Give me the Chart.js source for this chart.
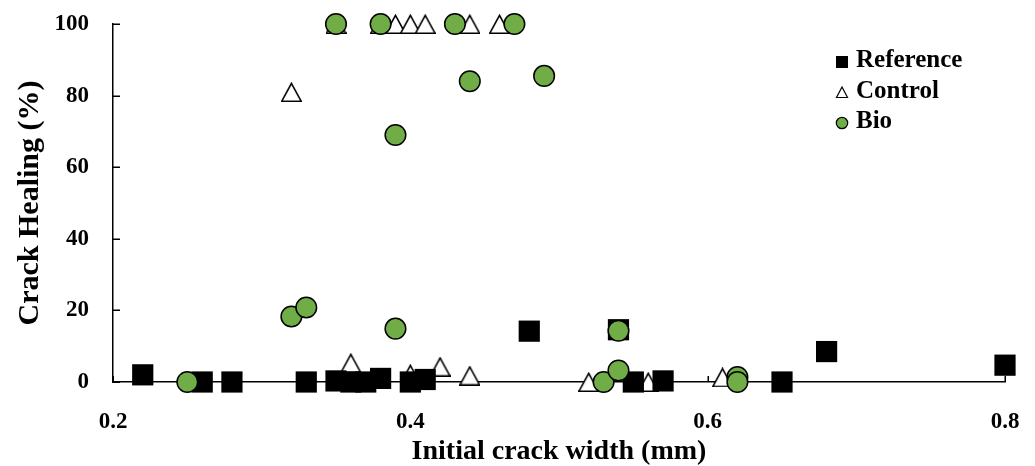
<!DOCTYPE html>
<html>
<head>
<meta charset="utf-8">
<script src="https://cdn.jsdelivr.net/npm/chart.js@4.4.1/dist/chart.umd.min.js"></script>
<style>
  html, body { margin: 0; padding: 0; background: #fff; }
  #wrap { width: 1035px; height: 466px; }
</style>
</head>
<body>
<div id="wrap"><canvas id="c" width="1035" height="466"></canvas></div>
<script>
// Initial crack width (mm) and crack healing (%) per specimen group
const refWidth    = [0.22, 0.26, 0.28, 0.33, 0.35, 0.36, 0.37, 0.38, 0.40, 0.41, 0.48, 0.54, 0.55, 0.57, 0.65, 0.68, 0.80];
const refHealing  = [2.0, 0, 0, 0, 0.3, 0, 0, 1.0, 0, 0.7, 14.2, 14.6, 0, 0.3, 0, 8.5, 4.7];

const ctrlWidth   = [0.32, 0.35, 0.36, 0.38, 0.39, 0.40, 0.40, 0.41, 0.42, 0.44, 0.44, 0.46, 0.52, 0.56, 0.61];
const ctrlHealing = [81, 100, 5.3, 100, 100, 100, 2.2, 100, 4.3, 100, 1.8, 100, 0, 0, 1.3];

const bioWidth    = [0.25, 0.32, 0.33, 0.35, 0.38, 0.39, 0.39, 0.43, 0.44, 0.47, 0.49, 0.53, 0.54, 0.54, 0.62, 0.62];
const bioHealing  = [0, 18.3, 20.8, 100, 100, 69, 14.9, 100, 84, 100, 85.5, 0, 14.3, 3.2, 1.4, 0];

const seriesNames = ['Reference', 'Control', 'Bio'];
const xTickValues = [0.2, 0.4, 0.6, 0.8];
const yTickValues = [0, 20, 40, 60, 80, 100];

const FONT = "'Liberation Serif', 'Times New Roman', serif";
const GREEN = '#70AD47';

function toPoints(xs, ys) {
  return xs.map((x, i) => ({ x: x, y: ys[i] }));
}

// open triangle marker, centred on its bounding box
function triangleMarker(w, h, lw) {
  const c = document.createElement('canvas');
  c.width = w; c.height = h;
  const g = c.getContext('2d');
  g.beginPath();
  g.moveTo(w / 2, lw / 2 + 0.5);
  g.lineTo(w - lw / 2, h - lw / 2);
  g.lineTo(lw / 2, h - lw / 2);
  g.closePath();
  g.fillStyle = '#fff';
  g.fill();
  g.lineWidth = lw;
  g.strokeStyle = '#000';
  g.lineJoin = 'miter';
  g.stroke();
  return c;
}

// tick marks pointing into the plot area
const innerTicks = {
  id: 'innerTicks',
  beforeDatasetsDraw(chart) {
    const { ctx, chartArea: a, scales: { x, y } } = chart;
    ctx.save();
    ctx.strokeStyle = '#000';
    ctx.lineWidth = 1.5;
    ctx.beginPath();
    y.ticks.forEach(t => {
      const py = Math.round(y.getPixelForValue(t.value)) + 0.25;
      ctx.moveTo(a.left, py);
      ctx.lineTo(a.left + 7, py);
    });
    x.ticks.forEach(t => {
      const px = Math.round(x.getPixelForValue(t.value)) + 0.25;
      ctx.moveTo(px, a.bottom);
      ctx.lineTo(px, a.bottom - 6);
    });
    ctx.stroke();
    ctx.restore();
  }
};

// legend block in the upper right of the plot
const legendBlock = {
  id: 'legendBlock',
  afterDraw(chart) {
    const { ctx, chartArea: a } = chart;
    const mx = a.right - 163;
    const y0 = a.top + 38;
    const step = 30.5;
    ctx.save();
    ctx.font = 'bold 25px ' + FONT;
    ctx.textBaseline = 'middle';
    ctx.textAlign = 'left';
    chart.data.datasets.forEach((ds, i) => {
      const cy = y0 + i * step;
      ctx.lineWidth = 1.2;
      ctx.strokeStyle = '#000';
      if (ds.legendShape === 'square') {
        ctx.fillStyle = '#000';
        ctx.fillRect(mx - 6, cy - 6, 12, 12);
      } else if (ds.legendShape === 'triangle') {
        ctx.beginPath();
        ctx.moveTo(mx, cy - 5.5);
        ctx.lineTo(mx + 5.5, cy + 5);
        ctx.lineTo(mx - 5.5, cy + 5);
        ctx.closePath();
        ctx.fillStyle = '#fff';
        ctx.fill();
        ctx.stroke();
      } else {
        ctx.beginPath();
        ctx.arc(mx, cy, 5.7, 0, Math.PI * 2);
        ctx.fillStyle = GREEN;
        ctx.fill();
        ctx.stroke();
      }
      ctx.fillStyle = '#000';
      ctx.fillText(ds.label, mx + 14, cy - 1);
    });
    ctx.restore();
  }
};

const tickFont = { family: FONT, size: 23, weight: 'bold' };

new Chart(document.getElementById('c'), {
  type: 'scatter',
  data: {
    datasets: [
      {
        label: seriesNames[0],
        legendShape: 'square',
        data: toPoints(refWidth, refHealing),
        pointStyle: 'rect',
        pointRadius: 15,
        pointHoverRadius: 15,
        backgroundColor: '#000',
        borderColor: '#000',
        borderWidth: 0,
        clip: false,
        order: 2
      },
      {
        label: seriesNames[1],
        legendShape: 'triangle',
        data: toPoints(ctrlWidth, ctrlHealing),
        pointStyle: triangleMarker(21, 20, 1.6),
        pointRadius: 10,
        pointHoverRadius: 10,
        backgroundColor: '#fff',
        borderColor: '#000',
        clip: false,
        order: 3
      },
      {
        label: seriesNames[2],
        legendShape: 'circle',
        data: toPoints(bioWidth, bioHealing),
        pointStyle: 'circle',
        pointRadius: 10.3,
        pointHoverRadius: 10.3,
        backgroundColor: GREEN,
        borderColor: '#000',
        borderWidth: 1.5,
        clip: false,
        order: 1
      }
    ]
  },
  options: {
    responsive: false,
    animation: false,
    devicePixelRatio: 1,
    layout: { padding: { top: 24, right: 30, left: 0, bottom: 0 } },
    plugins: {
      legend: { display: false },
      tooltip: { enabled: false }
    },
    scales: {
      x: {
        type: 'linear',
        position: 'bottom',
        min: 0.2,
        max: 0.8,
        afterBuildTicks: s => { s.ticks = xTickValues.map(v => ({ value: v })); },
        afterFit: s => { s.height = 84; s.paddingLeft = 0; s.paddingRight = 0; },
        ticks: {
          color: '#000',
          font: tickFont,
          padding: 26,
          maxRotation: 0,
          callback: v => Number(v).toFixed(1)
        },
        grid: { display: false, drawTicks: false },
        border: { display: true, color: '#000', width: 1.5 },
        title: {
          display: true,
          text: 'Initial crack width (mm)',
          color: '#000',
          font: { family: FONT, size: 28, weight: 'bold', lineHeight: 1.0 },
          padding: { top: 0, bottom: 0 }
        }
      },
      y: {
        type: 'linear',
        min: 0,
        max: 100,
        afterBuildTicks: s => { s.ticks = yTickValues.map(v => ({ value: v })); },
        afterFit: s => { s.width = 113; s.paddingTop = 0; s.paddingBottom = 0; },
        ticks: {
          color: '#000',
          font: tickFont,
          padding: 24
        },
        grid: { display: false, drawTicks: false },
        border: { display: true, color: '#000', width: 1.5 },
        title: {
          display: true,
          text: 'Crack Healing (%)',
          color: '#000',
          font: { family: FONT, size: 30, weight: 'bold', lineHeight: 1.0 },
          padding: { top: 15, bottom: 0 }
        }
      }
    }
  },
  plugins: [innerTicks, legendBlock]
});
</script>
</body>
</html>
